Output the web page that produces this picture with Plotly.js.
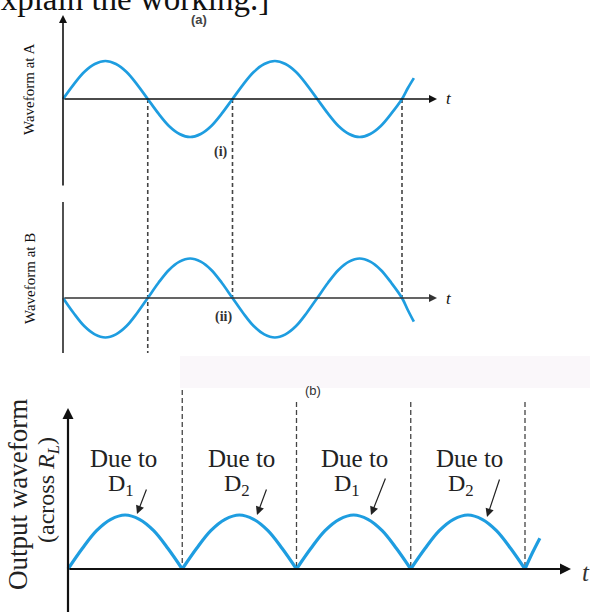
<!DOCTYPE html>
<html>
<head>
<meta charset="utf-8">
<script src="https://cdn.plot.ly/plotly-3.0.1.min.js"></script>
<style>html,body{margin:0;padding:0;background:#fff;}#chart{width:590px;height:612px;}</style>
</head>
<body>
<div id="chart"></div>
<script>
// ---- data (time in half-periods, amplitude normalised) ----
const timeAB = [0,0.125,0.25,0.375,0.5,0.625,0.75,0.875,
                1,1.125,1.25,1.375,1.5,1.625,1.75,1.875,
                2,2.125,2.25,2.375,2.5,2.625,2.75,2.875,
                3,3.125,3.25,3.375,3.5,3.625,3.75,3.875,
                4,4.07,4.14];
const waveA  = [0,0.38,0.71,0.92,1,0.92,0.71,0.38,
                0,-0.38,-0.71,-0.92,-1,-0.92,-0.71,-0.38,
                0,0.38,0.71,0.92,1,0.92,0.71,0.38,
                0,-0.38,-0.71,-0.92,-1,-0.92,-0.71,-0.38,
                0,0.29,0.55];
const waveB  = [0,-0.38,-0.71,-0.92,-1,-0.92,-0.71,-0.38,
                0,0.38,0.71,0.92,1,0.92,0.71,0.38,
                0,-0.38,-0.71,-0.92,-1,-0.92,-0.71,-0.38,
                0,0.38,0.71,0.92,1,0.92,0.71,0.38,
                0,-0.31,-0.6];
const timeOut = [0,0.125,0.25,0.375,0.5,0.625,0.75,0.875,1,null,
                 1,1.125,1.25,1.375,1.5,1.625,1.75,1.875,2,null,
                 2,2.125,2.25,2.375,2.5,2.625,2.75,2.875,3,null,
                 3,3.125,3.25,3.375,3.5,3.625,3.75,3.875,4,null,
                 4,4.065,4.13];
const waveOut = [0,0.38,0.71,0.92,1,0.92,0.71,0.38,0,null,
                 0,0.38,0.71,0.92,1,0.92,0.71,0.38,0,null,
                 0,0.38,0.71,0.92,1,0.92,0.71,0.38,0,null,
                 0,0.38,0.71,0.92,1,0.92,0.71,0.38,0,null,
                 0,0.3,0.57];
const crossAB_long = [1];        // dashed through both A and B
const crossAB_short = [2,4];     // dashed from A to B zero line
const crossOut = [1,2,3,4];
const dueLabels = ["D<sub>1</sub>","D<sub>2</sub>","D<sub>1</sub>","D<sub>2</sub>"];

// ---- pixel helpers (styles/layout only) ----
const W = 590, H = 612;
const px = x => x / W;
const py = y => 1 - y / H;
const x0AB = 63, hpAB = 84.75;
const x0C = 68, hpC = 114.25;
const zA = 99, ampA = 38, zB = 298, ampB = 39.5, zC = 569, ampC = 54;

const blue = '#1e9de0';
const serif = 'Liberation Serif, DejaVu Serif, serif';

const traces = [
  {x: timeAB, y: waveA, xaxis:'x', yaxis:'y', mode:'lines', line:{color:blue, width:2.7, shape:'spline', smoothing:1}, hoverinfo:'skip'},
  {x: timeAB, y: waveB, xaxis:'x', yaxis:'y2', mode:'lines', line:{color:blue, width:2.7, shape:'spline', smoothing:1}, hoverinfo:'skip'},
  {x: timeOut, y: waveOut, xaxis:'x2', yaxis:'y3', mode:'lines', connectgaps:false, line:{color:blue, width:3.2, shape:'spline', smoothing:1}, hoverinfo:'skip'}
];

const hidden = {visible:false, fixedrange:true, showgrid:false, zeroline:false};

const shapes = [];
// faint watermark band
shapes.push({type:'rect', xref:'paper', yref:'paper', x0:px(180), x1:1, y0:py(388), y1:py(356), fillcolor:'#faf7fa', line:{width:0}, layer:'below'});
const dash = {color:'#444', width:1.6, dash:'4px,3px'};
crossAB_long.forEach(c => shapes.push({type:'line', xref:'x', yref:'paper', x0:c, x1:c, y0:py(zA), y1:py(353), line:dash, layer:'below'}));
crossAB_short.forEach(c => shapes.push({type:'line', xref:'x', yref:'paper', x0:c, x1:c, y0:py(zA), y1:py(zB), line:dash, layer:'below'}));
crossOut.forEach((c,i) => shapes.push({type:'line', xref:'x2', yref:'paper', x0:c, x1:c, y0:py(i===0?390:402), y1:py(zC), line:{color:'#444', width:1.3, dash:'5px,3px'}, layer:'below'}));
// panel B y-axis (no arrow)
shapes.push({type:'line', xref:'x', yref:'paper', x0:0, x1:0, y0:py(202), y1:py(353), line:{color:'#333', width:1.7}});

const ann = [];
function arrowAxis(xref, yref, xh, yh, xt, yt, col, w) {
  ann.push({xref:xref, yref:yref, axref:xref, ayref:yref, x:xh, y:yh, ax:xt, ay:yt,
    showarrow:true, arrowhead:2, arrowsize:1, arrowwidth:w, arrowcolor:col, text:'', standoff:0, startstandoff:0});
}
arrowAxis('x','y', 0, (zA-15)/ampA, 0, (zA-187)/ampA, '#111', 1.6);
arrowAxis('x','y', (437-x0AB)/hpAB, 0, 0, 0, '#111', 1.6);
arrowAxis('x','y2', (437-x0AB)/hpAB, 0, 0, 0, '#333', 1.6);
arrowAxis('x2','y3', 0, (zC-408)/ampC, 0, (zC-616)/ampC, '#111', 2.2);
arrowAxis('x2','y3', (571-x0C)/hpC, 0, 0, 0, '#111', 2.2);

function txt(t, x, y, size, opts) {
  ann.push(Object.assign({xref:'paper', yref:'paper', x:px(x), y:py(y), text:t, showarrow:false,
    xanchor:'center', yanchor:'middle', font:{family:serif, size:size, color:'#111'}}, opts||{}));
}
txt('explain the working.]', 271, -1, 33, {xanchor:'right'});
txt('<b>(a)</b>', 199, 19, 13, {font:{family:'Liberation Sans, Arial, sans-serif', size:13, color:'#444'}});
txt('(b)', 313, 390, 13, {font:{family:'Liberation Sans, Arial, sans-serif', size:13, color:'#333'}});
txt('<b>(i)</b>', 221, 152, 14, {font:{family:serif, size:14, color:'#333'}});
txt('<b>(ii)</b>', 223, 317, 14, {font:{family:serif, size:14, color:'#333'}});
txt('<i>t</i>', 449, 99, 17);
txt('<i>t</i>', 449, 298, 17);
txt('<i>t</i>', 586, 572, 25, {font:{family:serif, size:25, color:'#333'}});
txt('Waveform at A', 29, 90, 15, {textangle:-90});
txt('Waveform at B', 30, 279, 15, {textangle:-90});
txt('Output waveform', 18, 495, 27, {textangle:-90, font:{family:serif, size:27, color:'#222'}});
txt('(across <i>R</i><sub><i>L</i></sub>)', 48, 490, 24, {textangle:-90, font:{family:serif, size:24, color:'#222'}});

const dueX = [123, 241, 355, 469];
const dX = [121, 237, 347, 461];
dueLabels.forEach((d,i) => {
  txt('Due to', dueX[i], 458, 25, {font:{family:serif, size:25, color:'#222'}});
  txt(d, dX[i], 485, 24, {font:{family:serif, size:24, color:'#222'}});
});
const arrowHeads = [[137,514,10,-26],[257,515,10,-27],[371,515,15,-38],[487,517,13,-39]];
arrowHeads.forEach(a => ann.push({xref:'paper', yref:'paper', x:px(a[0]), y:py(a[1]), ax:a[2], ay:a[3],
  showarrow:true, arrowhead:2, arrowsize:1.4, arrowwidth:1.2, arrowcolor:'#222', text:'', standoff:0}));

const layout = {
  width: W, height: H,
  margin: {l:0, r:0, t:0, b:0, pad:0},
  paper_bgcolor: '#fff', plot_bgcolor: 'rgba(0,0,0,0)',
  showlegend: false,
  xaxis: Object.assign({domain:[0,1], range:[-x0AB/hpAB, (W-x0AB)/hpAB]}, hidden),
  yaxis: Object.assign({domain:[0,1], range:[(zA-H)/ampA, zA/ampA]}, hidden),
  yaxis2: Object.assign({domain:[0,1], range:[(zB-H)/ampB, zB/ampB], overlaying:'y'}, hidden),
  xaxis2: Object.assign({domain:[0,1], range:[-x0C/hpC, (W-x0C)/hpC], overlaying:'x'}, hidden),
  yaxis3: Object.assign({domain:[0,1], range:[(zC-H)/ampC, zC/ampC], overlaying:'y'}, hidden),
  shapes: shapes,
  annotations: ann
};

Plotly.newPlot('chart', traces, layout, {displayModeBar:false, staticPlot:true});
</script>
</body>
</html>
